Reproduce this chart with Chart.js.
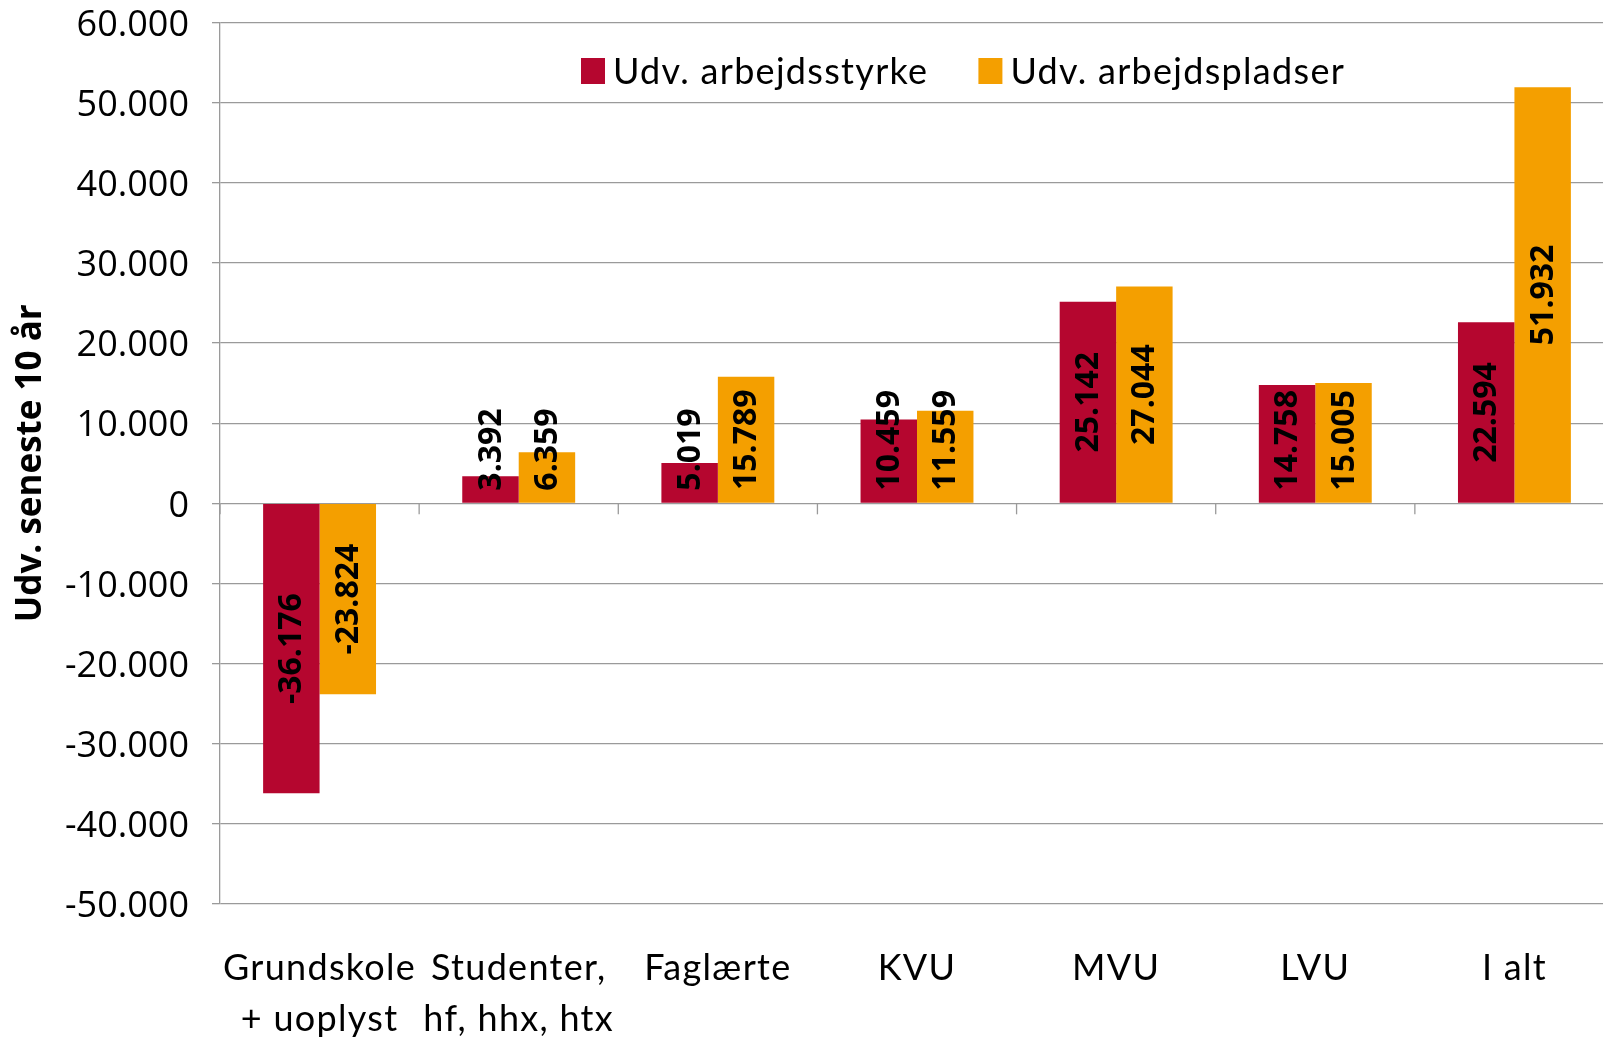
<!DOCTYPE html>
<html>
<head>
<meta charset="utf-8">
<script src="https://cdn.jsdelivr.net/npm/chart.js@4.4.1/dist/chart.umd.min.js"></script>
<style>
  html, body { margin: 0; padding: 0; background: #fff; overflow: hidden; }
  #wrap { position: absolute; left: 0; top: 0; width: 1620px; height: 1039px; }
</style>
</head>
<body>
<div id="wrap"><canvas id="myChart" width="1620" height="1039"></canvas></div>
<script>
// Kategorier og serier
const categories = [
  ["Grundskole", "+ uoplyst"],
  ["Studenter,", "hf, hhx, htx"],
  "Faglærte",
  "KVU",
  "MVU",
  "LVU",
  "I alt"
];
const arbejdsstyrke = [-36176, 3392, 5019, 10459, 25142, 14758, 22594];
const arbejdspladser = [-23824, 6359, 15789, 11559, 27044, 15005, 51932];
const seriesNames = ["Udv. arbejdsstyrke", "Udv. arbejdspladser"];
const yTitle = "Udv. seneste 10 år";

const RED = "#b5062f";
const ORANGE = "#f49f00";
const GRID = "#9a9a9a";

// tal med punktum som tusindtalsseparator
function fmt(v) {
  const s = String(Math.abs(v)).replace(/\B(?=(\d{3})+(?!\d))/g, ".");
  return (v < 0 ? "-" : "") + s;
}

// lodrette værdietiketter i søjlerne
const barLabels = {
  id: "barLabels",
  afterDatasetsDraw(chart) {
    const ctx = chart.ctx;
    ctx.save();
    ctx.letterSpacing = "0px";
    ctx.font = "bold 32px 'Open Sans'";
    ctx.fillStyle = "#000";
    ctx.textAlign = "center";
    ctx.textBaseline = "middle";
    chart.data.datasets.forEach((ds, di) => {
      const meta = chart.getDatasetMeta(di);
      meta.data.forEach((bar, i) => {
        const v = ds.data[i];
        const txt = fmt(v);
        const len = ctx.measureText(txt).width;
        let cy = (bar.y + bar.base) / 2;
        if (v >= 0) {
          if (cy + len / 2 > bar.base - 12) cy = bar.base - 12 - len / 2;
        } else {
          if (cy - len / 2 < bar.base + 12) cy = bar.base + 12 + len / 2;
        }
        ctx.save();
        ctx.translate(bar.x, cy);
        ctx.rotate(-Math.PI / 2);
        ctx.fillText(txt, 0, 1);
        ctx.restore();
      });
    });
    ctx.restore();
  }
};

// små streger på nul-linjen mellem kategorierne
const zeroTicks = {
  id: "zeroTicks",
  beforeDatasetsDraw(chart) {
    const x = chart.scales.x, y = chart.scales.y;
    const y0 = y.getPixelForValue(0);
    const ctx = chart.ctx;
    ctx.save();
    ctx.strokeStyle = GRID;
    ctx.lineWidth = 1.3;
    for (let i = 0; i <= categories.length; i++) {
      const px = x.getPixelForValue(i - 0.5);
      ctx.beginPath();
      ctx.moveTo(px, y0);
      ctx.lineTo(px, y0 + 11);
      ctx.stroke();
    }
    ctx.restore();
  }
};

// lidt spærret skrift på kategoriaksen (som i originalen)
const spacedX = {
  id: "spacedX",
  afterUpdate(chart) {
    const sc = chart.scales.x;
    if (sc._spaced) return;
    const orig = sc.drawLabels;
    sc.drawLabels = function (area) {
      const c = this.ctx;
      c.save();
      c.letterSpacing = "1.3px";
      orig.call(this, area);
      c.restore();
    };
    sc._spaced = true;
  }
};

// forklaring inde i plotområdet
const insideLegend = {
  id: "insideLegend",
  afterDraw(chart) {
    const ctx = chart.ctx;
    ctx.save();
    ctx.font = "36px Lato";
    ctx.letterSpacing = "1.3px";
    ctx.textBaseline = "middle";
    let lx = 581;
    const ly = 71;
    chart.data.datasets.forEach((ds) => {
      ctx.fillStyle = ds.backgroundColor;
      ctx.fillRect(lx, ly - 13, 24, 26);
      ctx.fillStyle = "#000";
      ctx.fillText(ds.label, lx + 32, ly + 1);
      lx += 32 + ctx.measureText(ds.label).width + 50;
    });
    ctx.restore();
  }
};

const ctx = document.getElementById("myChart").getContext("2d");
new Chart(ctx, {
  type: "bar",
  data: {
    labels: categories,
    datasets: [
      { label: seriesNames[0], data: arbejdsstyrke, backgroundColor: RED },
      { label: seriesNames[1], data: arbejdspladser, backgroundColor: ORANGE }
    ]
  },
  options: {
    responsive: false,
    animation: false,
    layout: { padding: { left: 0, right: 6, top: 22.5, bottom: 0 } },
    datasets: { bar: { categoryPercentage: 0.567, barPercentage: 1.0 } },
    plugins: {
      legend: { display: false },
      tooltip: { enabled: false }
    },
    scales: {
      x: {
        grid: { display: false },
        border: { display: false },
        ticks: {
          color: "#000",
          font: { family: "Lato", size: 36, lineHeight: 1.44 },
          padding: 30,
          maxRotation: 0,
          autoSkip: false
        },
        afterFit(scale) { scale.height = 135; }
      },
      y: {
        min: -50000,
        max: 60000,
        grid: { color: GRID, lineWidth: 1.3, tickLength: 8 },
        border: { display: true, color: GRID, width: 1.3 },
        ticks: {
          stepSize: 10000,
          color: "#000",
          font: { family: "Open Sans", size: 36 },
          padding: 23,
          labelOffset: 3,
          callback: (v) => fmt(v)
        },
        title: {
          display: true,
          text: yTitle,
          color: "#000",
          font: { family: "Open Sans", size: 35, weight: "bold" },
          padding: { top: 10, bottom: 0 }
        },
        afterFit(scale) {
          scale.width = 220;
          scale.paddingTop = 0;
          scale.paddingBottom = 0;
        }
      }
    }
  },
  plugins: [zeroTicks, barLabels, spacedX, insideLegend]
});
</script>
</body>
</html>
